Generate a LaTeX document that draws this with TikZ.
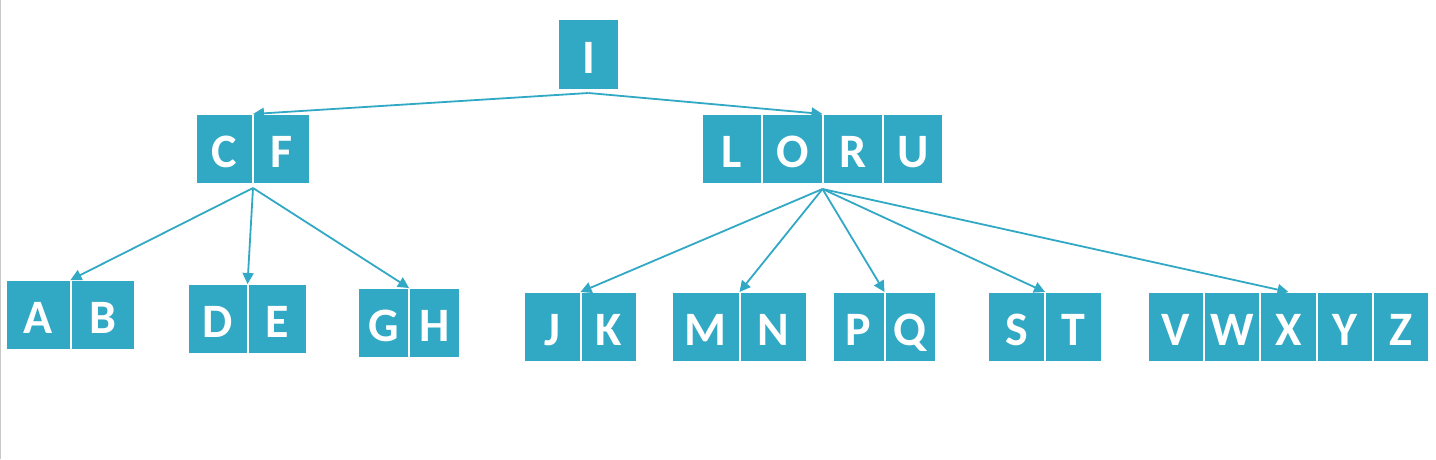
\documentclass[tikz,border=0pt]{standalone}
\usepackage{fontspec}
\setmainfont{Carlito}
\usetikzlibrary{positioning,arrows.meta,calc}
\definecolor{BTeal}{HTML}{31A8C4}
\definecolor{LGrey}{HTML}{C8C8C8}
\tikzset{
    cell/.style = {rectangle, fill=BTeal, draw=white, line width=2pt,
        minimum height=70pt, inner sep=0pt, outer sep=0pt, text=white,
        font=\fontsize{48}{48}\selectfont\bfseries,
        text height=37pt, text depth=0pt},
    link/.style = {draw=BTeal, line width=1.8pt, -{Triangle[length=11pt,width=11pt]}}
}
\begin{document}
\begin{tikzpicture}[x=1pt, y=-1pt]
    \useasboundingbox (0,0) rectangle (1436,459);
    \draw [LGrey, line width=1pt] (0.5,0) -- (0.5,459);
    \node [cell, minimum width=61pt, minimum height=71pt, anchor=north west] (I) at (558,19) {I};
    \node [cell, minimum width=57pt, anchor=north west] (C) at (196,114) {C};
    \node [cell, minimum width=57pt, right=0pt of C] (F) {F};
    \node [cell, minimum width=60.25pt, anchor=north west] (L) at (702,114) {L};
    \foreach \k [remember=\k as \prev (initially L)] in {O,R,U}{
        \node [cell, minimum width=60.25pt, right=0pt of \prev] (\k) {\k};
    }
    \foreach \first/\rest/\w/\px/\py in {A/B/64.5/6/280, D/E/59.5/188/284, G/H/51/358/288,
        J/K/56.5/524/292, M/N/67.5/672/292, P/Q/51.5/833/292, S/T/57/988/292}{
        \node [cell, minimum width=\w pt, anchor=north west] (\first) at (\px,\py) {\first};
        \node [cell, minimum width=\w pt, right=0pt of \first] (\rest) {\rest};
    }
    \node [cell, minimum width=56.2pt, anchor=north west] (V) at (1148,292) {V};
    \foreach \k [remember=\k as \prev (initially V)] in {W,X,Y,Z}{
        \node [cell, minimum width=56.2pt, right=0pt of \prev] (\k) {\k};
    }
    \draw [link] ([yshift=-3pt]I.south) -- (C.north east);
    \draw [link] ([yshift=-3pt]I.south) -- (O.north east);
    \foreach \c in {A,D,G}{
        \draw [link] ([yshift=-4pt]C.south east) -- (\c.north east);
    }
    \foreach \c in {J,M,P,S}{
        \draw [link] ([yshift=-5pt]O.south east) -- (\c.north east);
    }
    \draw [link] ([yshift=-5pt]O.south east) -- (X.north);
\end{tikzpicture}
\end{document}
